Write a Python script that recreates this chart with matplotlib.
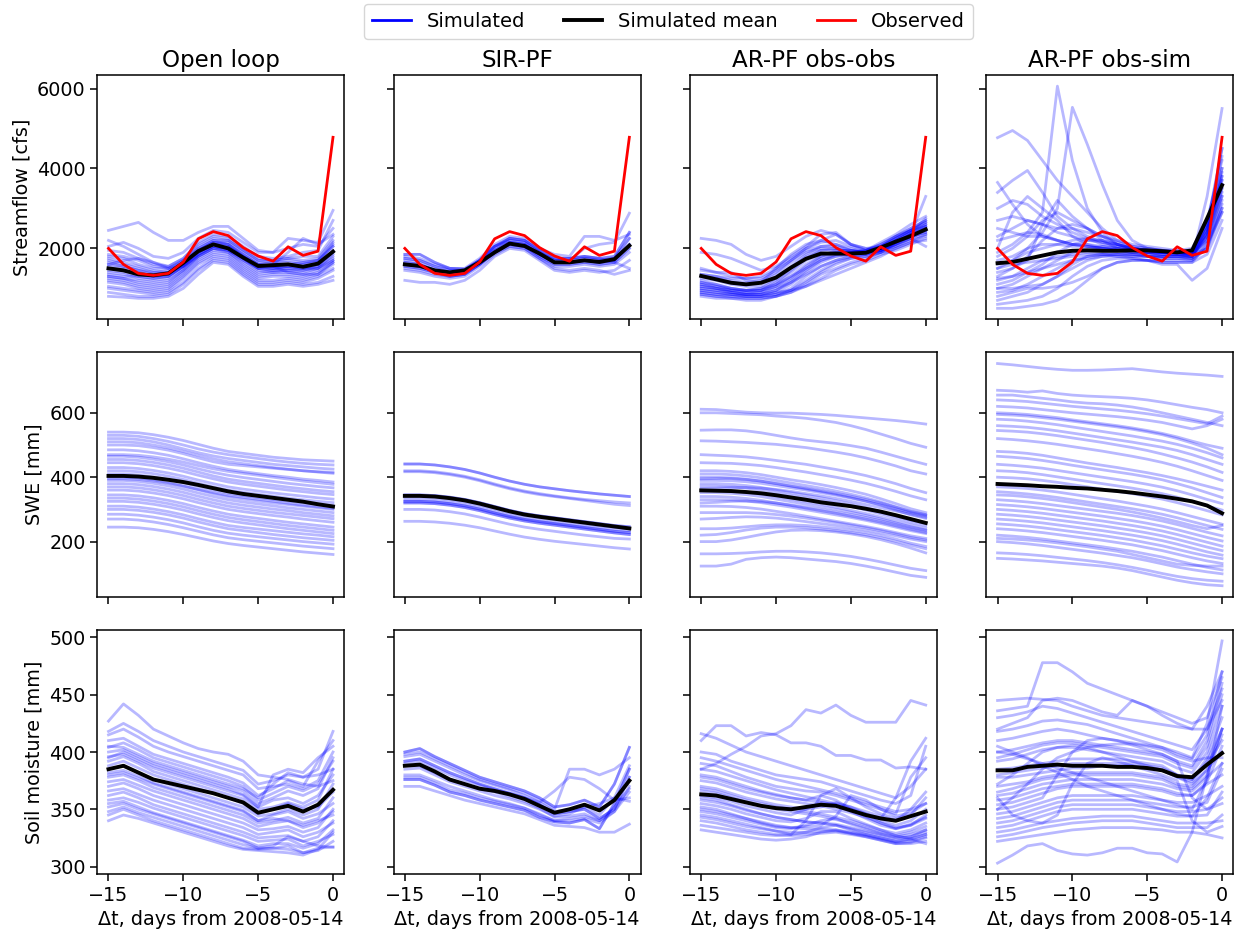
import numpy as np
import matplotlib.pyplot as plt
from matplotlib.lines import Line2D

# dias relativos a 2008-05-14
dias = np.arange(-15, 1)

metodos = ["Open loop", "SIR-PF", "AR-PF obs-obs", "AR-PF obs-sim"]
variaveis = ["Streamflow [cfs]", "SWE [mm]", "Soil moisture [mm]"]

# vazao observada
q_obs = [2000, 1600, 1375, 1325, 1375, 1660, 2240, 2420, 2320, 2020, 1810, 1680, 2040, 1825, 1930, 4780]

# ---------------- vazao (streamflow) ----------------
q_ol = [
    [2450, 2550, 2650, 2400, 2200, 2200, 2400, 2550, 2550, 2250, 1950, 1900, 2250, 2200, 2150, 2950],
    [2050, 2150, 2000, 1800, 1750, 1900, 2250, 2450, 2400, 2150, 1900, 1900, 2000, 2100, 2050, 2500],
    [1800, 1750, 1600, 1500, 1500, 1700, 2050, 2250, 2200, 1950, 1700, 1700, 1750, 1700, 1750, 2200],
    [1650, 1550, 1450, 1400, 1450, 1700, 2000, 2200, 2100, 1850, 1600, 1650, 1650, 1600, 1700, 2050],
    [1500, 1450, 1350, 1300, 1350, 1600, 1900, 2100, 2050, 1800, 1550, 1550, 1600, 1550, 1600, 1900],
    [1400, 1350, 1250, 1200, 1250, 1500, 1850, 2050, 1950, 1700, 1500, 1500, 1500, 1450, 1550, 1800],
    [1300, 1250, 1150, 1100, 1150, 1450, 1800, 2000, 1900, 1650, 1400, 1450, 1450, 1400, 1500, 1700],
    [1200, 1150, 1050, 1000, 1050, 1350, 1700, 1900, 1850, 1550, 1300, 1350, 1350, 1300, 1400, 1650],
    [1050, 1000, 950, 900, 950, 1250, 1600, 1800, 1750, 1450, 1200, 1200, 1250, 1200, 1300, 1500],
    [900, 850, 800, 800, 850, 1100, 1450, 1700, 1650, 1350, 1100, 1100, 1150, 1100, 1150, 1300],
    [800, 780, 750, 750, 800, 1000, 1350, 1650, 1600, 1300, 1050, 1050, 1100, 1050, 1100, 1200],
    [2200, 2050, 1850, 1650, 1550, 1750, 2150, 2350, 2300, 2050, 1800, 1750, 1800, 1900, 1950, 2700],
    [1600, 1700, 1750, 1650, 1500, 1550, 1800, 2000, 1950, 1750, 1500, 1600, 1900, 2250, 2100, 2350],
    [1350, 1300, 1300, 1250, 1300, 1550, 1950, 2150, 2100, 1800, 1600, 1550, 1400, 1350, 1350, 1650],
    [1950, 1900, 1750, 1600, 1550, 1750, 2100, 2300, 2250, 2000, 1750, 1700, 1750, 1800, 1800, 2300],
    [1750, 1650, 1550, 1450, 1400, 1650, 1950, 2150, 2150, 1900, 1650, 1600, 1600, 1650, 1700, 2150],
    [1550, 1500, 1400, 1300, 1300, 1550, 1900, 2100, 2050, 1800, 1550, 1500, 1550, 1500, 1550, 1950],
    [1450, 1400, 1300, 1250, 1300, 1550, 1850, 2050, 2000, 1750, 1500, 1450, 1500, 1500, 1500, 1850],
    [1250, 1200, 1100, 1050, 1100, 1400, 1750, 1950, 1900, 1600, 1350, 1400, 1400, 1350, 1450, 1700],
    [1150, 1100, 1000, 950, 1000, 1300, 1650, 1850, 1800, 1500, 1250, 1300, 1300, 1250, 1350, 1600],
    [1000, 950, 900, 850, 900, 1150, 1500, 1750, 1700, 1400, 1150, 1150, 1200, 1150, 1250, 1450],
    [1700, 1600, 1500, 1400, 1350, 1550, 1850, 2050, 2000, 1750, 1500, 1500, 1550, 1600, 1650, 2100],
    [1600, 1550, 1450, 1350, 1400, 1600, 1950, 2150, 2100, 1850, 1600, 1550, 1550, 1500, 1600, 1900],
    [1300, 1250, 1200, 1150, 1200, 1450, 1800, 2000, 1950, 1700, 1450, 1400, 1450, 1450, 1500, 1750],
    [1850, 1800, 1700, 1550, 1500, 1650, 2000, 2200, 2200, 1950, 1700, 1650, 1700, 1650, 1700, 2050],
]
q_ol_media = [1500, 1450, 1350, 1325, 1375, 1640, 1930, 2100, 2000, 1770, 1560, 1580, 1600, 1540, 1620, 1920]

q_sir = [
    [1850, 1850, 1650, 1500, 1480, 1700, 2050, 2250, 2200, 1950, 1750, 1750, 1800, 1750, 1800, 2400],
    [1750, 1700, 1550, 1450, 1450, 1700, 2050, 2200, 2150, 1900, 1700, 1700, 1750, 1700, 1750, 2250],
    [1650, 1600, 1450, 1400, 1400, 1650, 1950, 2150, 2100, 1850, 1650, 1650, 1700, 1650, 1700, 2100],
    [1550, 1500, 1400, 1300, 1350, 1600, 1900, 2100, 2050, 1800, 1600, 1600, 1650, 1600, 1650, 2000],
    [1450, 1400, 1300, 1250, 1300, 1550, 1850, 2050, 2000, 1750, 1550, 1550, 1600, 1550, 1600, 1900],
    [1200, 1150, 1150, 1100, 1200, 1450, 1800, 2000, 1950, 1700, 1450, 1400, 1450, 1400, 1450, 1700],
    [1600, 1550, 1400, 1350, 1400, 1600, 1950, 2150, 2100, 1850, 1700, 1700, 2000, 2100, 2150, 2880],
    [1700, 1650, 1500, 1400, 1450, 1700, 2000, 2250, 2200, 1950, 1750, 1750, 1800, 1750, 1650, 1500],
    [1500, 1450, 1350, 1300, 1350, 1600, 1900, 2050, 2000, 1750, 1500, 1450, 1500, 1450, 1350, 1450],
    [1800, 1750, 1600, 1500, 1500, 1750, 2100, 2300, 2250, 2000, 1850, 1800, 2300, 2300, 2200, 2350],
    [1850, 1850, 1650, 1500, 1480, 1700, 2050, 2250, 2200, 1950, 1750, 1750, 1800, 1750, 1800, 2400],
    [1650, 1600, 1450, 1400, 1400, 1650, 1950, 2150, 2100, 1850, 1650, 1650, 1700, 1650, 1700, 2100],
    [1550, 1500, 1400, 1300, 1350, 1600, 1900, 2100, 2050, 1800, 1600, 1600, 1650, 1600, 1650, 2000],
    [1750, 1700, 1550, 1450, 1450, 1700, 2050, 2200, 2150, 1900, 1700, 1700, 1750, 1700, 1750, 2250],
]
q_sir_media = [1600, 1560, 1450, 1400, 1450, 1650, 1900, 2120, 2060, 1870, 1650, 1650, 1700, 1660, 1730, 2070]

q_obsobs = [
    [2250, 2200, 2100, 1850, 1700, 1800, 2050, 2300, 2450, 2350, 2100, 2000, 2050, 2250, 2450, 2650],
    [1900, 1850, 1750, 1600, 1450, 1550, 1800, 2050, 2350, 2400, 2100, 1950, 2050, 2300, 2500, 2700],
    [1450, 1400, 1400, 1200, 1150, 1500, 1850, 2100, 2200, 2350, 2100, 2000, 1950, 2050, 2250, 2450],
    [1300, 1250, 1150, 1100, 1150, 1350, 1650, 1900, 2000, 2000, 1900, 1950, 2100, 2300, 2450, 2600],
    [1100, 1050, 950, 900, 950, 1100, 1400, 1700, 1850, 1900, 1900, 1950, 2150, 2350, 2600, 2800],
    [1000, 950, 900, 850, 850, 950, 1200, 1500, 1750, 1850, 1850, 1900, 2050, 2250, 2450, 2550],
    [900, 850, 800, 800, 800, 850, 1000, 1300, 1550, 1700, 1800, 1850, 1950, 2150, 2300, 2400],
    [850, 800, 750, 750, 750, 800, 900, 1100, 1350, 1500, 1650, 1750, 1900, 2050, 2200, 2300],
    [950, 900, 850, 850, 850, 900, 950, 1050, 1200, 1350, 1500, 1650, 1800, 2000, 2150, 2200],
    [1200, 1100, 1000, 950, 1000, 1200, 1500, 1800, 1950, 1950, 1950, 1900, 2000, 2150, 2300, 2400],
    [1100, 1000, 950, 950, 1000, 1100, 1300, 1500, 1700, 1800, 1850, 1850, 1950, 2100, 2250, 2050],
    [1350, 1300, 1250, 1250, 1250, 1450, 1700, 2000, 2200, 2100, 2000, 1900, 1900, 2150, 2350, 3300],
    [800, 750, 750, 700, 700, 800, 950, 1150, 1400, 1600, 1750, 1800, 1900, 2000, 2150, 2350],
    [1050, 1000, 900, 850, 900, 1000, 1150, 1350, 1550, 1700, 1800, 1850, 2000, 2200, 2400, 2550],
    [1250, 1200, 1100, 1050, 1050, 1250, 1550, 1850, 2050, 2100, 1950, 1900, 1950, 2100, 2300, 2500],
    [1150, 1100, 1000, 950, 950, 1150, 1450, 1750, 1950, 2000, 1900, 1900, 2050, 2250, 2450, 2650],
    [1050, 1000, 950, 900, 900, 1050, 1300, 1600, 1800, 1900, 1900, 1950, 2100, 2300, 2500, 2700],
    [950, 900, 850, 800, 800, 900, 1100, 1400, 1650, 1800, 1850, 1900, 2000, 2200, 2400, 2550],
    [900, 850, 850, 800, 800, 850, 950, 1200, 1450, 1650, 1750, 1800, 1900, 2100, 2250, 2350],
    [1150, 1050, 1000, 950, 950, 1050, 1250, 1550, 1800, 1950, 1950, 1900, 1950, 2100, 2350, 2600],
    [1000, 950, 900, 850, 850, 950, 1150, 1450, 1700, 1850, 1900, 1900, 2000, 2150, 2350, 2450],
    [850, 800, 800, 750, 750, 800, 900, 1050, 1250, 1450, 1600, 1700, 1850, 1950, 2100, 2250],
    [1350, 1300, 1200, 1150, 1200, 1400, 1700, 1950, 2050, 2050, 1950, 1900, 1950, 2150, 2350, 2500],
    [1500, 1400, 1300, 1250, 1300, 1500, 1750, 2000, 2150, 2200, 2050, 1950, 2000, 2200, 2400, 2750],
]
q_obsobs_media = [1310, 1225, 1140, 1100, 1140, 1270, 1520, 1740, 1870, 1870, 1870, 1890, 2020, 2170, 2310, 2475]

q_obssim = [
    [4770, 4950, 4700, 4200, 3700, 3300, 2900, 2500, 2200, 2050, 2000, 1950, 1900, 1850, 2000, 3200],
    [1900, 2100, 2400, 2900, 6060, 4200, 3000, 2400, 2100, 2000, 1950, 1900, 1900, 1850, 2300, 4000],
    [1500, 1700, 2000, 2400, 3000, 5530, 4600, 3600, 2700, 2200, 2000, 1950, 1950, 1900, 2500, 4500],
    [3650, 3100, 2600, 2300, 2200, 2100, 2050, 2000, 1950, 1900, 1900, 1850, 1850, 1800, 2400, 3800],
    [3400, 3700, 3950, 3400, 2800, 2500, 2300, 2150, 2050, 2000, 1950, 1900, 1900, 1850, 2200, 3500],
    [2700, 2800, 2700, 2600, 2500, 2500, 2400, 2300, 2200, 2100, 2050, 2000, 1950, 2000, 2700, 4200],
    [2200, 2300, 2400, 2350, 2200, 2100, 2050, 2000, 2000, 1950, 1900, 1900, 1900, 1950, 2600, 3900],
    [1700, 1800, 2000, 2100, 2100, 2050, 2050, 2000, 1950, 1900, 1900, 1850, 1850, 1800, 2450, 3700],
    [1200, 1300, 1500, 1700, 1800, 1850, 1900, 1900, 1900, 1850, 1850, 1800, 1800, 1800, 2300, 3300],
    [900, 950, 1100, 1300, 1500, 1700, 1800, 1850, 1850, 1800, 1800, 1750, 1750, 1750, 2200, 3100],
    [600, 650, 700, 800, 1000, 1300, 1550, 1700, 1750, 1750, 1700, 1700, 1700, 1700, 2100, 2900],
    [1000, 1000, 1050, 1100, 1300, 1600, 1800, 1850, 1800, 1750, 1700, 1650, 1650, 1650, 1850, 2700],
    [2000, 2900, 3300, 3000, 2700, 2300, 2100, 2000, 1950, 1900, 1850, 1800, 1800, 1750, 3300, 5500],
    [1400, 1500, 1700, 2600, 3200, 2800, 2500, 2200, 2000, 1950, 1900, 1900, 1900, 1900, 2600, 4300],
    [800, 900, 1000, 1000, 1050, 1150, 1300, 1500, 1650, 1700, 1700, 1600, 1600, 1200, 1500, 2500],
    [500, 500, 550, 600, 700, 900, 1200, 1500, 1650, 1700, 1700, 1650, 1650, 1650, 2100, 3000],
    [2300, 2500, 2700, 2600, 2400, 2300, 2200, 2150, 2100, 2000, 1950, 1950, 1900, 1900, 2500, 3600],
    [1800, 2000, 2300, 2700, 2900, 2700, 2500, 2300, 2150, 2050, 2000, 1950, 1900, 1900, 2400, 3700],
    [1300, 1500, 1800, 2200, 2500, 2600, 2500, 2300, 2100, 2000, 1950, 1900, 1900, 1900, 2300, 3400],
    [1100, 1200, 1400, 1600, 1900, 2100, 2200, 2200, 2100, 2000, 1950, 1900, 1850, 1850, 2200, 3300],
    [700, 800, 900, 1100, 1300, 1500, 1700, 1800, 1850, 1850, 1800, 1800, 1800, 1750, 2000, 3000],
    [1600, 1700, 1900, 2000, 2100, 2200, 2250, 2200, 2100, 2000, 1950, 1900, 1900, 1850, 2600, 4000],
    [2500, 2400, 2300, 2300, 2200, 2100, 2100, 2050, 2000, 1950, 1900, 1900, 1850, 1850, 2500, 3800],
    [1000, 1100, 1300, 1500, 1700, 1900, 2000, 2050, 2000, 1950, 1900, 1850, 1850, 1800, 2400, 3500],
    [1250, 1300, 1400, 1500, 1600, 1700, 1750, 1800, 1800, 1800, 1800, 1750, 1750, 1700, 2000, 2900],
    [3000, 3200, 3100, 2800, 2600, 2400, 2250, 2100, 2050, 2000, 1950, 1900, 1900, 1900, 2600, 4500],
    [1500, 1600, 1650, 1700, 1750, 1800, 1850, 1850, 1850, 1850, 1800, 1800, 1800, 1800, 2350, 3600],
]
q_obssim_media = [1630, 1660, 1740, 1820, 1900, 1940, 1950, 1940, 1940, 1950, 1950, 1930, 1900, 1950, 2750, 3580]

# ---------------- SWE ----------------
swe_ol = [
    [540, 540, 538, 532, 524, 514, 502, 490, 480, 474, 468, 462, 458, 454, 452, 450],
    [520, 520, 517, 510, 500, 488, 476, 466, 458, 452, 446, 440, 436, 432, 428, 425],
    [500, 500, 498, 492, 484, 473, 460, 448, 440, 436, 432, 428, 424, 420, 417, 415],
    [485, 485, 482, 476, 468, 457, 445, 434, 424, 417, 411, 405, 400, 394, 390, 385],
    [455, 455, 452, 446, 438, 428, 416, 404, 394, 387, 381, 375, 369, 364, 359, 355],
    [430, 430, 427, 421, 413, 403, 391, 380, 370, 363, 357, 351, 346, 341, 336, 332],
    [400, 400, 397, 391, 383, 373, 361, 349, 339, 332, 326, 320, 315, 310, 305, 300],
    [380, 380, 377, 371, 363, 353, 341, 330, 320, 313, 307, 301, 296, 290, 285, 280],
    [360, 360, 357, 351, 343, 333, 321, 310, 300, 293, 287, 281, 276, 270, 265, 260],
    [335, 335, 332, 326, 318, 308, 296, 285, 275, 268, 262, 256, 250, 245, 240, 235],
    [310, 310, 307, 301, 293, 283, 271, 260, 250, 244, 239, 234, 229, 224, 220, 215],
    [285, 285, 282, 276, 268, 258, 246, 235, 226, 220, 215, 210, 205, 200, 196, 192],
    [245, 245, 243, 238, 231, 222, 212, 202, 194, 188, 183, 178, 173, 168, 164, 160],
    [470, 470, 468, 463, 456, 447, 436, 426, 418, 412, 406, 400, 394, 388, 383, 378],
    [395, 395, 393, 388, 381, 372, 362, 352, 343, 337, 331, 325, 319, 313, 308, 303],
    [530, 530, 527, 520, 511, 500, 488, 478, 470, 464, 458, 452, 447, 443, 440, 438],
    [510, 510, 507, 500, 491, 480, 468, 457, 448, 442, 436, 430, 425, 420, 416, 412],
    [465, 465, 462, 456, 448, 438, 426, 415, 406, 399, 393, 387, 381, 376, 371, 367],
    [445, 445, 442, 436, 428, 418, 406, 395, 385, 378, 372, 366, 360, 355, 350, 346],
    [420, 420, 417, 411, 403, 393, 381, 370, 360, 353, 347, 341, 335, 330, 325, 321],
    [410, 410, 407, 401, 393, 383, 371, 360, 350, 343, 337, 331, 326, 321, 316, 312],
    [390, 390, 387, 381, 373, 363, 351, 340, 330, 323, 317, 311, 305, 300, 295, 290],
    [370, 370, 367, 361, 353, 343, 331, 320, 310, 303, 297, 291, 286, 281, 276, 271],
    [345, 345, 342, 336, 328, 318, 306, 295, 285, 278, 272, 266, 260, 255, 250, 245],
    [325, 325, 322, 316, 308, 298, 286, 275, 265, 258, 252, 246, 240, 235, 230, 225],
    [300, 300, 297, 291, 283, 273, 261, 250, 240, 234, 228, 222, 217, 212, 208, 204],
    [270, 270, 267, 261, 253, 243, 232, 221, 212, 206, 201, 196, 191, 186, 182, 178],
]
swe_ol_media = [404, 404, 402, 398, 392, 385, 376, 366, 356, 348, 342, 336, 330, 324, 316, 309]

swe_sir = [
    [441, 441, 438, 432, 424, 413, 400, 388, 378, 370, 364, 358, 353, 348, 344, 340],
    [417, 417, 414, 408, 400, 389, 376, 364, 354, 346, 340, 334, 328, 322, 316, 312],
    [420, 420, 417, 411, 403, 392, 379, 367, 357, 349, 342, 336, 331, 327, 323, 320],
    [345, 345, 343, 338, 331, 321, 309, 297, 287, 280, 274, 268, 262, 256, 250, 246],
    [338, 338, 336, 331, 324, 314, 302, 290, 281, 274, 268, 262, 256, 250, 245, 240],
    [325, 325, 323, 318, 311, 301, 289, 278, 269, 262, 256, 250, 244, 238, 232, 228],
    [320, 320, 318, 313, 306, 296, 284, 273, 264, 257, 251, 245, 239, 233, 227, 222],
    [300, 300, 298, 293, 286, 276, 265, 254, 245, 238, 232, 226, 220, 215, 210, 208],
    [263, 263, 261, 257, 251, 243, 233, 223, 214, 207, 201, 196, 191, 186, 181, 177],
    [330, 330, 328, 323, 316, 306, 294, 282, 273, 266, 260, 254, 248, 243, 238, 234],
    [325, 325, 323, 318, 311, 301, 289, 278, 269, 262, 256, 250, 244, 238, 232, 228],
    [320, 320, 318, 313, 306, 296, 284, 273, 264, 257, 251, 245, 239, 233, 227, 222],
    [441, 441, 438, 432, 424, 413, 400, 388, 378, 370, 364, 358, 353, 348, 344, 340],
    [345, 345, 343, 338, 331, 321, 309, 297, 287, 280, 274, 268, 262, 256, 250, 246],
]
swe_sir_media = [342, 342, 340, 335, 328, 318, 306, 294, 284, 277, 271, 265, 259, 253, 247, 241]

swe_obsobs = [
    [611, 610, 606, 602, 600, 599, 599, 597, 595, 592, 588, 584, 580, 576, 571, 565],
    [600, 600, 598, 596, 594, 590, 587, 583, 577, 570, 560, 548, 534, 520, 505, 493],
    [546, 547, 547, 544, 538, 530, 522, 515, 510, 505, 498, 490, 478, 465, 452, 440],
    [513, 512, 510, 508, 505, 502, 497, 492, 485, 478, 470, 460, 448, 435, 420, 410],
    [470, 468, 466, 463, 458, 452, 446, 440, 432, 424, 415, 405, 393, 380, 365, 352],
    [420, 420, 418, 414, 408, 400, 392, 385, 377, 368, 358, 347, 333, 318, 302, 290],
    [400, 400, 398, 394, 388, 380, 372, 364, 356, 347, 337, 326, 313, 298, 283, 272],
    [380, 380, 378, 374, 368, 360, 352, 344, 336, 327, 317, 306, 293, 280, 267, 258],
    [360, 360, 358, 354, 348, 340, 332, 324, 316, 307, 297, 287, 276, 264, 252, 242],
    [340, 340, 338, 334, 328, 320, 312, 304, 296, 288, 279, 270, 260, 249, 238, 228],
    [310, 310, 309, 306, 301, 294, 287, 279, 271, 263, 255, 247, 238, 228, 218, 210],
    [270, 272, 275, 277, 276, 273, 268, 262, 256, 250, 243, 236, 227, 218, 208, 200],
    [240, 240, 242, 246, 250, 252, 252, 250, 246, 241, 235, 228, 219, 208, 195, 185],
    [200, 200, 205, 213, 222, 230, 235, 236, 234, 230, 224, 216, 206, 194, 180, 165],
    [162, 162, 163, 165, 168, 170, 170, 168, 165, 160, 154, 146, 137, 127, 117, 110],
    [124, 124, 130, 145, 150, 152, 150, 146, 142, 138, 132, 124, 115, 105, 95, 89],
    [390, 390, 389, 386, 381, 374, 367, 360, 352, 344, 335, 325, 314, 302, 290, 280],
    [410, 410, 408, 404, 398, 390, 382, 374, 366, 357, 347, 336, 323, 308, 293, 282],
    [395, 396, 396, 393, 388, 381, 373, 366, 358, 350, 341, 331, 320, 307, 294, 284],
    [372, 372, 370, 366, 360, 352, 344, 336, 328, 319, 309, 298, 286, 273, 260, 250],
    [352, 352, 350, 346, 340, 332, 324, 316, 308, 300, 291, 281, 270, 258, 246, 236],
    [330, 330, 329, 326, 321, 314, 307, 299, 291, 283, 275, 266, 256, 245, 234, 225],
    [320, 322, 325, 326, 324, 320, 314, 307, 300, 292, 284, 275, 265, 254, 243, 234],
    [290, 290, 290, 290, 288, 284, 279, 273, 266, 259, 251, 243, 234, 224, 213, 205],
    [445, 444, 443, 440, 436, 430, 423, 416, 408, 400, 391, 381, 369, 356, 342, 330],
    [365, 366, 368, 368, 366, 362, 356, 349, 342, 334, 325, 315, 305, 295, 285, 275],
    [220, 222, 228, 236, 242, 245, 245, 243, 239, 234, 228, 221, 212, 201, 189, 178],
]
swe_obsobs_media = [359, 358, 357, 354, 350, 344, 337, 330, 322, 316, 310, 302, 293, 282, 270, 258]

swe_obssim = [
    [753, 749, 744, 739, 735, 732, 732, 733, 735, 737, 732, 727, 723, 720, 717, 713],
    [670, 668, 664, 668, 660, 655, 652, 650, 648, 645, 640, 633, 625, 617, 610, 600],
    [655, 655, 650, 645, 640, 634, 630, 628, 624, 618, 610, 600, 590, 580, 570, 560],
    [620, 618, 615, 610, 605, 600, 596, 592, 588, 583, 577, 570, 560, 550, 560, 580],
    [600, 598, 595, 590, 585, 578, 572, 566, 560, 553, 545, 536, 525, 512, 500, 490],
    [580, 578, 574, 569, 563, 556, 549, 542, 535, 528, 520, 512, 502, 490, 476, 460],
    [545, 543, 540, 535, 529, 522, 515, 508, 500, 492, 483, 472, 460, 447, 432, 415],
    [520, 517, 513, 508, 502, 495, 488, 481, 473, 465, 456, 446, 434, 420, 405, 390],
    [480, 478, 474, 468, 460, 452, 444, 437, 430, 422, 414, 405, 395, 384, 372, 360],
    [465, 462, 458, 452, 445, 437, 430, 423, 416, 409, 401, 392, 380, 367, 352, 337],
    [440, 437, 433, 428, 421, 414, 407, 400, 393, 386, 378, 369, 358, 345, 331, 318],
    [400, 398, 395, 390, 384, 377, 370, 363, 356, 349, 341, 332, 321, 309, 296, 283],
    [370, 368, 365, 360, 354, 347, 340, 333, 326, 318, 310, 301, 290, 278, 266, 254],
    [330, 327, 323, 318, 312, 306, 300, 294, 288, 281, 273, 264, 253, 241, 229, 218],
    [300, 297, 293, 288, 282, 276, 270, 264, 257, 250, 242, 233, 222, 210, 198, 186],
    [270, 267, 263, 258, 252, 246, 240, 234, 227, 220, 212, 203, 192, 180, 168, 158],
    [240, 237, 233, 228, 222, 216, 210, 204, 197, 190, 181, 172, 161, 150, 140, 132],
    [200, 197, 193, 188, 182, 176, 170, 164, 157, 150, 141, 131, 121, 113, 106, 100],
    [165, 163, 160, 156, 151, 146, 141, 135, 128, 120, 111, 101, 92, 85, 80, 77],
    [148, 146, 143, 140, 136, 132, 128, 124, 118, 110, 100, 90, 80, 72, 66, 63],
    [210, 208, 205, 201, 196, 190, 184, 177, 170, 160, 150, 140, 130, 126, 124, 124],
    [640, 638, 635, 630, 625, 620, 616, 612, 608, 603, 597, 590, 582, 574, 566, 590],
    [595, 593, 590, 585, 580, 574, 568, 562, 556, 549, 541, 532, 520, 506, 490, 470],
    [560, 558, 555, 550, 544, 537, 530, 523, 516, 509, 501, 493, 483, 470, 455, 440],
    [420, 418, 414, 408, 401, 394, 387, 380, 373, 366, 358, 349, 338, 325, 311, 298],
    [355, 352, 348, 343, 337, 330, 323, 316, 309, 302, 294, 285, 274, 262, 250, 238],
    [315, 312, 308, 303, 297, 291, 285, 279, 272, 265, 257, 248, 237, 225, 213, 202],
    [285, 282, 278, 273, 267, 261, 255, 249, 242, 235, 227, 218, 207, 195, 183, 172],
    [255, 252, 248, 243, 237, 231, 225, 219, 212, 205, 196, 187, 176, 165, 155, 147],
    [220, 217, 213, 208, 202, 196, 190, 184, 177, 170, 161, 152, 141, 130, 120, 112],
    [345, 343, 339, 334, 328, 321, 314, 307, 300, 292, 283, 273, 262, 250, 240, 250],
]
swe_obssim_media = [379, 377, 375, 372, 370, 367, 365, 361, 357, 352, 346, 340, 333, 325, 312, 288]

# ---------------- umidade do solo ----------------
sm_ol = [
    [427, 442, 432, 420, 414, 408, 403, 400, 398, 392, 380, 378, 376, 372, 370, 375],
    [418, 425, 418, 410, 405, 400, 396, 392, 388, 384, 372, 375, 380, 378, 385, 418],
    [410, 412, 405, 398, 394, 390, 386, 382, 378, 373, 362, 368, 375, 370, 392, 410],
    [400, 402, 396, 390, 386, 382, 378, 374, 370, 366, 355, 360, 366, 362, 368, 395],
    [392, 396, 390, 383, 379, 375, 371, 367, 363, 359, 350, 352, 356, 352, 358, 385],
    [385, 388, 382, 376, 372, 368, 364, 360, 356, 352, 344, 346, 350, 345, 350, 372],
    [378, 380, 375, 369, 365, 361, 357, 353, 349, 345, 338, 340, 343, 338, 342, 360],
    [370, 373, 368, 362, 358, 354, 350, 346, 342, 338, 332, 333, 335, 330, 334, 350],
    [362, 365, 360, 354, 350, 346, 342, 338, 334, 330, 325, 326, 327, 322, 326, 340],
    [355, 357, 352, 347, 343, 339, 335, 331, 327, 323, 318, 320, 320, 316, 320, 332],
    [345, 350, 345, 340, 336, 332, 328, 324, 320, 316, 315, 316, 315, 312, 316, 317],
    [395, 400, 394, 388, 384, 380, 376, 372, 368, 363, 352, 380, 385, 382, 395, 405],
    [405, 404, 398, 392, 388, 384, 380, 376, 372, 368, 360, 372, 382, 378, 380, 385],
    [380, 382, 377, 372, 368, 364, 360, 356, 352, 348, 340, 342, 340, 336, 340, 345],
    [352, 355, 350, 346, 342, 338, 334, 330, 326, 322, 316, 318, 326, 322, 318, 317],
    [415, 420, 413, 405, 400, 396, 392, 388, 384, 380, 368, 370, 372, 368, 375, 400],
    [404, 408, 402, 395, 391, 387, 383, 379, 375, 370, 358, 364, 370, 366, 372, 392],
    [396, 398, 392, 386, 382, 378, 374, 370, 366, 362, 352, 358, 360, 355, 362, 380],
    [388, 392, 386, 380, 376, 372, 368, 364, 360, 355, 346, 350, 355, 350, 352, 365],
    [382, 384, 379, 373, 369, 365, 361, 357, 353, 349, 340, 345, 348, 342, 346, 355],
    [374, 376, 371, 366, 362, 358, 354, 350, 346, 342, 335, 338, 340, 334, 338, 348],
    [366, 368, 363, 358, 354, 350, 346, 342, 338, 334, 328, 330, 332, 326, 330, 338],
    [358, 360, 356, 351, 347, 343, 339, 335, 331, 327, 322, 323, 324, 318, 322, 328],
    [348, 352, 347, 343, 339, 335, 331, 327, 323, 319, 316, 316, 318, 312, 314, 322],
    [340, 345, 342, 338, 334, 330, 326, 322, 318, 315, 314, 313, 312, 310, 315, 330],
]
sm_ol_media = [385, 388, 382, 376, 373, 370, 367, 364, 360, 356, 347, 350, 353, 348, 354, 367]

sm_sir = [
    [400, 403, 396, 390, 384, 378, 374, 370, 366, 360, 352, 354, 358, 352, 372, 404],
    [398, 400, 394, 388, 382, 376, 372, 368, 364, 358, 350, 385, 385, 380, 385, 395],
    [396, 398, 392, 386, 380, 375, 371, 367, 362, 356, 348, 350, 352, 345, 360, 388],
    [392, 394, 388, 382, 377, 372, 368, 364, 360, 354, 346, 348, 350, 342, 350, 378],
    [388, 388, 382, 376, 372, 368, 365, 361, 357, 351, 343, 344, 346, 340, 348, 370],
    [380, 380, 375, 370, 366, 362, 358, 355, 351, 346, 340, 340, 342, 338, 348, 365],
    [376, 376, 371, 365, 362, 358, 355, 352, 349, 343, 339, 338, 341, 333, 355, 385],
    [378, 378, 373, 367, 364, 360, 357, 354, 351, 345, 340, 342, 344, 340, 352, 368],
    [370, 370, 366, 362, 358, 355, 352, 349, 346, 341, 336, 335, 334, 330, 330, 337],
    [390, 392, 386, 380, 375, 371, 367, 364, 360, 356, 366, 378, 376, 368, 358, 360],
    [385, 386, 380, 374, 370, 366, 362, 359, 355, 350, 344, 346, 352, 355, 360, 357],
    [376, 376, 371, 365, 362, 358, 355, 352, 349, 343, 339, 338, 341, 333, 355, 385],
    [400, 403, 396, 390, 384, 378, 374, 370, 366, 360, 352, 354, 358, 352, 372, 404],
    [392, 394, 388, 382, 377, 372, 368, 364, 360, 354, 346, 348, 350, 342, 350, 378],
]
sm_sir_media = [388, 389, 383, 376, 372, 368, 366, 363, 359, 353, 347, 350, 354, 349, 358, 375]

sm_obsobs = [
    [385, 390, 398, 405, 414, 416, 423, 437, 434, 441, 432, 426, 426, 426, 445, 441],
    [410, 423, 423, 414, 417, 415, 408, 408, 405, 397, 397, 393, 393, 386, 387, 385],
    [400, 398, 392, 388, 384, 380, 378, 376, 374, 370, 366, 362, 358, 355, 362, 405],
    [390, 388, 383, 378, 374, 370, 368, 366, 365, 362, 358, 354, 350, 346, 378, 395],
    [378, 376, 372, 368, 365, 362, 360, 358, 362, 368, 360, 352, 346, 342, 345, 360],
    [370, 368, 364, 360, 357, 354, 352, 350, 352, 356, 352, 346, 340, 336, 340, 350],
    [362, 360, 357, 353, 350, 347, 345, 350, 356, 354, 348, 342, 336, 333, 336, 342],
    [355, 353, 350, 346, 343, 340, 339, 342, 348, 348, 342, 337, 332, 329, 332, 338],
    [348, 346, 343, 340, 337, 334, 333, 336, 340, 342, 337, 333, 329, 326, 328, 332],
    [340, 338, 335, 332, 330, 328, 328, 330, 334, 336, 332, 328, 325, 322, 324, 328],
    [332, 330, 328, 326, 324, 323, 324, 326, 330, 332, 329, 326, 323, 320, 321, 325],
    [368, 366, 362, 358, 355, 352, 350, 348, 346, 343, 340, 336, 332, 327, 324, 320],
    [345, 343, 340, 337, 334, 331, 328, 340, 362, 358, 350, 344, 338, 333, 337, 343],
    [352, 350, 346, 342, 338, 335, 334, 335, 336, 344, 362, 358, 350, 344, 347, 355],
    [416, 412, 406, 400, 396, 392, 388, 384, 380, 376, 372, 368, 364, 360, 392, 412],
    [375, 373, 369, 365, 362, 359, 357, 355, 353, 350, 347, 343, 338, 334, 336, 345],
    [366, 364, 360, 356, 353, 350, 348, 346, 344, 341, 338, 334, 330, 327, 330, 335],
    [358, 356, 353, 349, 346, 343, 341, 339, 338, 336, 333, 330, 327, 324, 326, 332],
    [350, 348, 345, 342, 339, 336, 334, 333, 333, 332, 330, 328, 325, 322, 324, 328],
    [343, 341, 338, 335, 333, 331, 330, 330, 331, 331, 329, 327, 324, 321, 322, 326],
    [336, 334, 332, 330, 328, 327, 327, 328, 329, 330, 328, 326, 323, 320, 320, 322],
    [385, 383, 379, 375, 371, 367, 364, 361, 358, 355, 352, 348, 344, 340, 350, 365],
    [380, 378, 374, 370, 366, 363, 360, 358, 356, 354, 350, 346, 342, 360, 370, 385],
    [360, 358, 354, 350, 346, 343, 341, 339, 338, 337, 334, 331, 328, 325, 326, 330],
    [395, 392, 388, 384, 380, 376, 373, 370, 367, 364, 360, 356, 352, 348, 350, 355],
]
sm_obsobs_media = [363, 362, 359, 356, 353, 351, 350, 352, 354, 353, 349, 345, 342, 340, 344, 348]

sm_obssim = [
    [303, 310, 318, 320, 314, 311, 310, 312, 316, 316, 312, 311, 304, 330, 380, 420],
    [445, 446, 447, 446, 445, 440, 436, 432, 430, 428, 426, 424, 422, 420, 440, 470],
    [436, 438, 440, 478, 478, 470, 460, 455, 450, 445, 440, 435, 430, 425, 430, 465],
    [420, 425, 430, 445, 447, 445, 440, 435, 432, 445, 440, 432, 425, 420, 420, 445],
    [410, 412, 415, 418, 420, 418, 415, 412, 410, 408, 406, 404, 400, 395, 425, 497],
    [400, 402, 405, 408, 410, 410, 408, 406, 404, 402, 400, 398, 392, 388, 410, 460],
    [392, 394, 398, 402, 404, 404, 402, 400, 398, 396, 394, 392, 386, 382, 400, 440],
    [385, 386, 388, 390, 392, 394, 394, 394, 394, 392, 390, 388, 380, 376, 392, 420],
    [378, 378, 380, 382, 384, 386, 386, 388, 388, 388, 386, 384, 378, 374, 390, 410],
    [370, 372, 374, 378, 380, 382, 382, 382, 382, 382, 380, 378, 372, 370, 385, 400],
    [362, 364, 368, 372, 374, 376, 376, 376, 376, 376, 374, 372, 368, 366, 378, 390],
    [354, 356, 360, 364, 368, 370, 370, 370, 370, 370, 368, 366, 362, 362, 372, 380],
    [346, 348, 352, 356, 360, 362, 362, 362, 362, 362, 360, 358, 356, 356, 362, 370],
    [338, 340, 344, 348, 352, 354, 354, 354, 354, 354, 352, 350, 348, 348, 350, 355],
    [330, 332, 335, 338, 340, 342, 343, 344, 344, 344, 342, 340, 338, 338, 338, 340],
    [322, 324, 326, 328, 330, 332, 333, 334, 334, 334, 333, 332, 330, 330, 328, 325],
    [350, 360, 372, 385, 395, 400, 404, 406, 407, 407, 405, 402, 396, 392, 395, 395],
    [405, 400, 395, 388, 382, 376, 370, 366, 362, 358, 354, 350, 346, 344, 360, 390],
    [360, 345, 340, 338, 345, 372, 390, 395, 392, 388, 384, 380, 375, 340, 330, 335],
    [430, 432, 435, 440, 438, 434, 430, 426, 422, 418, 414, 410, 406, 402, 420, 455],
    [418, 420, 423, 427, 428, 426, 424, 420, 416, 412, 408, 404, 398, 394, 415, 470],
    [395, 398, 402, 406, 408, 408, 406, 404, 402, 400, 398, 396, 390, 386, 405, 450],
    [380, 382, 384, 386, 388, 390, 390, 390, 390, 390, 388, 386, 380, 376, 395, 430],
    [365, 368, 372, 376, 378, 380, 380, 380, 380, 380, 378, 376, 370, 368, 380, 415],
    [358, 360, 364, 368, 370, 372, 372, 372, 372, 372, 370, 368, 364, 362, 374, 405],
    [342, 344, 348, 352, 356, 358, 358, 358, 358, 358, 356, 354, 352, 352, 356, 385],
    [334, 336, 340, 344, 348, 350, 350, 350, 350, 350, 348, 346, 344, 344, 345, 365],
    [326, 328, 331, 334, 336, 338, 339, 340, 340, 340, 338, 336, 334, 334, 334, 345],
    [372, 380, 390, 400, 404, 406, 404, 400, 396, 392, 388, 384, 378, 372, 384, 420],
    [350, 352, 356, 360, 380, 400, 410, 412, 410, 406, 402, 398, 392, 360, 350, 360],
    [400, 398, 394, 390, 386, 382, 378, 374, 370, 366, 362, 358, 354, 350, 376, 440],
]
sm_obssim_media = [384, 384, 387, 388, 389, 388, 388, 388, 387, 387, 386, 384, 379, 378, 389, 399]

ensembles = [
    [q_ol, q_sir, q_obsobs, q_obssim],
    [swe_ol, swe_sir, swe_obsobs, swe_obssim],
    [sm_ol, sm_sir, sm_obsobs, sm_obssim],
]
medias = [
    [q_ol_media, q_sir_media, q_obsobs_media, q_obssim_media],
    [swe_ol_media, swe_sir_media, swe_obsobs_media, swe_obssim_media],
    [sm_ol_media, sm_sir_media, sm_obsobs_media, sm_obssim_media],
]
yticks = [[2000, 4000, 6000], [200, 400, 600], [300, 350, 400, 450, 500]]

plt.rcParams['font.size'] = 13.8
plt.rcParams['axes.linewidth'] = 1.1
plt.rcParams['xtick.major.size'] = 4.8
plt.rcParams['ytick.major.size'] = 4.8
plt.rcParams['xtick.major.width'] = 1.1
plt.rcParams['ytick.major.width'] = 1.1

fig, axes = plt.subplots(3, 4, figsize=(12.47, 9.38), dpi=100, sharex=True, sharey='row')
fig.subplots_adjust(left=0.078, right=0.989, top=0.92, bottom=0.068, wspace=0.2, hspace=0.135)

for i in range(3):
    for j in range(4):
        ax = axes[i, j]
        for membro in ensembles[i][j]:
            ax.plot(dias, membro, color='blue', alpha=0.28, linewidth=2.0)
        ax.plot(dias, medias[i][j], color='black', linewidth=2.8)
        if i == 0:
            ax.plot(dias, q_obs, color='red', linewidth=2.0)
            ax.set_title(metodos[j], fontsize=16.6)
        if i == 2:
            ax.set_xlabel("Δt, days from 2008-05-14")
        ax.set_yticks(yticks[i])
    axes[i, 0].set_ylabel(variaveis[i])

axes[2, 0].set_xticks([-15, -10, -5, 0])

legenda = [
    Line2D([0], [0], color='blue', linewidth=2.0, label="Simulated"),
    Line2D([0], [0], color='black', linewidth=2.8, label="Simulated mean"),
    Line2D([0], [0], color='red', linewidth=2.0, label="Observed"),
]
fig.legend(handles=legenda, loc='upper center', ncol=3, bbox_to_anchor=(0.536, 1.006), fontsize=14)

plt.savefig("out.png", dpi=100)
